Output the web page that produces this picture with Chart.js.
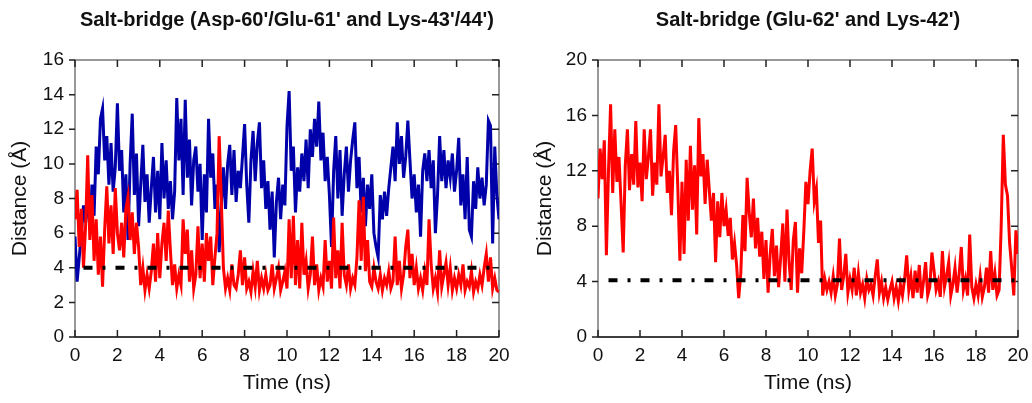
<!DOCTYPE html>
<html>
<head>
<meta charset="utf-8">
<script src="https://cdn.jsdelivr.net/npm/chart.js@4/dist/chart.umd.min.js"></script>
<style>
  body { margin: 0; background: #fff; }
  #wrap { position: relative; width: 1032px; height: 403px; }
  canvas { position: absolute; top: 0; }
</style>
</head>
<body>
<div id="wrap">
  <canvas id="left" width="516" height="403" style="left:0"></canvas>
  <canvas id="right" width="516" height="403" style="left:516px"></canvas>
</div>
<script>
/* ── Données (distance en Å, pas de 0.1 ns) ── */
const step = 0.1;

const leftRed = [
  6.8, 8.5, 5.2, 7.4, 4.0, 6.4, 10.5, 5.6, 8.2, 4.4,
  6.8, 3.6, 5.8, 2.9, 6.2, 8.7, 5.4, 7.6, 4.8, 8.6,
  6.0, 5.0, 6.6, 4.6, 7.4, 8.1, 5.6, 7.2, 4.8, 6.6,
  5.2, 3.0, 4.0, 2.7, 3.6, 2.8, 3.8, 5.4, 3.2, 6.0,
  3.4, 5.4, 6.6, 4.4, 7.3, 5.0, 3.0, 4.2, 2.8, 3.6,
  3.0, 6.8, 4.8, 6.2, 3.2, 5.0, 2.8, 3.6, 6.4, 3.4,
  5.4, 3.2, 6.0, 4.4, 5.8, 3.0, 4.6, 6.0, 11.6, 8.0,
  4.0, 2.8, 3.4, 2.7, 4.2, 3.0, 2.8, 3.6, 5.0, 3.0,
  4.6, 2.8, 3.2, 2.6, 3.8, 2.9, 4.4, 2.7, 3.4, 2.8,
  3.6, 2.7, 3.0, 4.2, 2.8, 3.4, 4.0, 2.7, 3.2, 3.8,
  2.8, 6.8, 3.4, 7.0, 3.0, 5.6, 2.8, 6.6, 3.6, 4.4,
  2.8, 3.6, 5.8, 3.0, 4.2, 2.7, 3.4, 2.9, 5.6, 3.2,
  4.4, 2.8, 6.9, 3.4, 5.0, 2.8, 6.6, 3.6, 3.0, 4.2,
  2.8, 3.4, 3.0, 4.6, 7.9, 4.4, 8.1, 3.8, 5.6, 3.2,
  2.9, 4.0, 3.2, 2.8, 3.6, 2.7, 3.4, 3.0, 3.8, 2.8,
  3.2, 5.8, 3.0, 4.4, 2.8, 3.6, 5.2, 6.2, 3.4, 4.8,
  3.0, 4.0, 2.8, 3.4, 2.7, 3.8, 3.0, 6.8, 4.2, 2.8,
  3.4, 2.6, 5.0, 2.9, 3.6, 4.3, 3.0, 4.0, 2.7, 3.4,
  2.8, 3.6, 3.0, 4.2, 2.7, 3.2, 2.9, 3.8, 2.6, 3.2,
  2.8, 3.6, 3.0, 4.0, 4.8, 3.2, 4.6, 2.8, 3.4, 2.7,
  2.6
];

const leftBlue = [
  5.8, 3.2, 4.6, 6.0, 7.6, 6.6, 8.4, 6.2, 8.8, 7.0,
  11.0, 9.4, 12.6, 13.2, 10.2, 11.6, 8.8, 11.2, 8.4, 9.8,
  13.5, 9.6, 10.8, 7.2, 9.4, 5.6, 10.0, 12.9, 8.2, 10.6,
  6.4, 8.8, 11.1, 7.8, 9.4, 6.6, 8.6, 10.4, 7.2, 9.6,
  6.8, 11.2, 8.0, 10.2, 7.4, 9.0, 6.8, 8.4, 13.8, 10.2,
  12.6, 8.2, 13.7, 9.2, 11.4, 7.6, 10.2, 11.0, 8.4, 10.0,
  5.6, 9.4, 7.2, 12.6, 9.2, 10.6, 7.4, 8.8, 4.9, 7.6,
  9.8, 7.4, 10.0, 11.1, 8.2, 10.8, 7.8, 9.6, 8.6, 10.4,
  12.3, 8.8, 6.6, 10.2, 11.9, 9.0, 11.2, 12.4, 8.6, 10.2,
  7.4, 9.0, 6.2, 8.4, 4.6, 7.8, 9.2, 6.8, 8.8, 7.6,
  12.2, 14.2, 9.6, 11.0, 7.2, 9.8, 8.4, 10.6, 9.0, 11.4,
  8.6, 12.0, 10.4, 12.6, 11.0, 13.6, 10.2, 11.8, 9.0, 10.4,
  8.2, 5.2, 9.6, 11.6, 8.0, 10.8, 7.0, 9.4, 11.0, 8.4,
  10.2, 11.4, 12.4, 8.6, 10.4, 7.2, 9.2, 6.4, 8.8, 7.4,
  9.4, 6.0, 5.2, 4.6, 8.2, 6.8, 8.4, 7.0, 8.6, 9.8,
  11.0, 9.0, 12.4, 10.0, 11.6, 9.2, 10.4, 12.5, 10.2, 8.0,
  9.4, 7.2, 8.8, 5.8, 9.6, 10.6, 9.0, 10.8, 8.6, 10.2,
  6.0, 8.2, 11.6, 9.0, 10.8, 8.6, 10.2, 9.2, 10.6, 8.4,
  9.6, 11.5, 7.6, 9.4, 6.8, 10.4, 6.2, 5.8, 9.0, 7.4,
  9.8, 8.0, 9.2, 7.6, 8.8, 12.5, 12.2, 5.4, 11.0, 8.2,
  6.8
];

const rightRed = [
  10.0, 13.6, 11.4, 14.2, 5.9, 12.0, 16.8, 10.4, 15.0, 11.2,
  13.0, 9.6, 6.1, 12.4, 15.0, 10.6, 13.2, 11.0, 15.6, 10.8,
  12.6, 9.8, 15.0, 11.4, 13.0, 15.0, 10.2, 12.6, 11.0, 16.8,
  11.6, 13.0, 14.6, 10.4, 12.0, 8.8, 13.4, 15.3, 10.8, 5.5,
  11.2, 6.0, 12.8, 8.4, 13.8, 9.2, 12.4, 7.4, 15.8, 11.6,
  13.2, 9.6, 12.8, 10.6, 8.4, 10.4, 5.4, 9.8, 7.2, 10.4,
  8.0, 9.2, 7.3, 8.6, 5.6, 6.8, 5.2, 2.8, 4.6, 8.8,
  6.2, 11.5, 9.0, 7.2, 10.0, 6.4, 8.6, 5.8, 7.6, 4.2,
  7.0, 3.2, 6.0, 7.8, 4.4, 6.6, 3.6, 5.8, 8.2, 4.0,
  9.2, 5.4, 3.4, 7.0, 8.3, 3.2, 6.4, 4.6, 7.6, 11.2,
  9.6, 12.0, 13.6, 9.8, 10.7, 6.8, 8.4, 3.0, 4.2, 3.4,
  4.0, 3.2, 4.4, 3.0, 3.8, 7.1, 3.4, 4.4, 6.0, 3.2,
  4.2, 3.4, 5.0, 3.0, 4.6, 3.2, 3.8, 2.8, 4.2, 3.4,
  3.8, 3.0, 4.4, 5.6, 3.2, 4.0, 2.8, 3.6, 2.7, 3.4,
  4.0, 2.8, 3.6, 2.6, 3.8, 3.0, 4.2, 5.9, 3.4, 4.4,
  2.8, 4.8, 3.2, 5.2, 2.8, 4.0, 5.4, 3.0, 3.6, 6.1,
  4.8, 3.4, 4.0, 2.9, 6.2, 3.6, 4.4, 5.4, 3.0, 3.8,
  5.0, 3.2, 4.6, 6.5, 3.4, 4.2, 3.0, 7.4, 3.6, 2.8,
  3.8, 3.0, 4.4, 2.9, 3.6, 5.0, 3.2, 6.2, 3.4, 4.6,
  3.0, 3.4, 8.0, 14.6, 11.0, 10.2, 6.8, 5.0, 3.0, 7.7,
  6.0
];

/* seuil du pont salin (ligne tiret-point) */
const cutoffLeft = { t: [0.4, 20], d: [4.0, 4.0] };
const cutoffRight = { t: [0.5, 20], d: [4.1, 4.1] };

const timeNs = leftBlue.map((_, i) => +(i * step).toFixed(1));
const toXY = (vals, times) => vals.map((v, i) => ({ x: times[i], y: v }));

/* ── Style ── */
const FONT = "'Liberation Sans', Arial, sans-serif";

/* cadre + graduations (vers l'intérieur en haut/bas/droite, vers l'extérieur à gauche) */
const frameTicks = {
  id: "frameTicks",
  beforeDatasetsDraw(chart) {
    const { ctx, chartArea: a, scales } = chart;
    const x = scales.x, y = scales.y;
    ctx.save();
    ctx.lineWidth = 1.5;
    ctx.strokeStyle = "#777";
    ctx.strokeRect(a.left, a.top, a.right - a.left, a.bottom - a.top);
    ctx.strokeStyle = "#222";
    ctx.beginPath();
    ctx.moveTo(a.left, a.bottom); ctx.lineTo(a.right, a.bottom);
    x.ticks.forEach((t) => {
      const px = x.getPixelForValue(t.value);
      ctx.moveTo(px, a.bottom); ctx.lineTo(px, a.bottom - 7);
      ctx.moveTo(px, a.top); ctx.lineTo(px, a.top + 7);
    });
    y.ticks.forEach((t) => {
      const py = y.getPixelForValue(t.value);
      ctx.moveTo(a.left - 6, py); ctx.lineTo(a.left, py);
      ctx.moveTo(a.right, py); ctx.lineTo(a.right - 7, py);
    });
    ctx.stroke();
    ctx.restore();
  },
};

function makeChart(id, title, datasets, yMax, yStep, yWidth, padRight, yTitlePad) {
  return new Chart(document.getElementById(id), {
    type: "line",
    data: { datasets },
    options: {
      responsive: false,
      animation: false,
      devicePixelRatio: 1,
      layout: { padding: { left: 0, right: padRight, top: 0, bottom: 0 } },
      elements: { point: { radius: 0 }, line: { tension: 0 } },
      plugins: {
        legend: { display: false },
        tooltip: { enabled: false },
        title: {
          display: true,
          text: title,
          fullSize: false,
          color: "#111",
          font: { family: FONT, size: 20, weight: "bold" },
          padding: { top: 8, bottom: 28 },
        },
      },
      scales: {
        x: {
          type: "linear",
          min: 0,
          max: 20,
          grid: { display: false, drawTicks: false },
          border: { display: false },
          ticks: { stepSize: 2, color: "#111", padding: 7, font: { family: FONT, size: 19 } },
          title: {
            display: true,
            text: "Time (ns)",
            color: "#111",
            font: { family: FONT, size: 21 },
            padding: { top: 2, bottom: 7 },
          },
          afterFit(s) { s.height = 66; s.paddingLeft = 0; s.paddingRight = 0; },
        },
        y: {
          min: 0,
          max: yMax,
          grid: { display: false, drawTicks: false },
          border: { display: false },
          ticks: { stepSize: yStep, color: "#111", padding: 11, font: { family: FONT, size: 19 } },
          title: {
            display: true,
            text: "Distance (Å)",
            color: "#111",
            font: { family: FONT, size: 21 },
            padding: { top: yTitlePad, bottom: 0 },
          },
          afterFit(s) { s.width = yWidth; s.paddingTop = 0; s.paddingBottom = 0; },
        },
      },
    },
    plugins: [frameTicks],
  });
}

const cutoffStyle = {
  borderColor: "#000",
  borderWidth: 4,
  borderDash: [9, 10, 3, 10],
  pointRadius: 0,
};

makeChart(
  "left",
  "Salt-bridge (Asp-60'/Glu-61' and Lys-43'/44')",
  [
    { label: "Cutoff", data: toXY(cutoffLeft.d, cutoffLeft.t), order: 0, ...cutoffStyle },
    { label: "Red", data: toXY(leftRed, timeNs), borderColor: "#ff0000", borderWidth: 3, order: 1 },
    { label: "Blue", data: toXY(leftBlue, timeNs), borderColor: "#0000aa", borderWidth: 3, order: 2 },
  ],
  16, 2, 75, 17, 8
);

makeChart(
  "right",
  "Salt-bridge (Glu-62' and Lys-42')",
  [
    { label: "Cutoff", data: toXY(cutoffRight.d, cutoffRight.t), order: 0, ...cutoffStyle },
    { label: "Red", data: toXY(rightRed, timeNs), borderColor: "#ff0000", borderWidth: 3, order: 1 },
  ],
  20, 4, 82, 14, 17
);
</script>
</body>
</html>
